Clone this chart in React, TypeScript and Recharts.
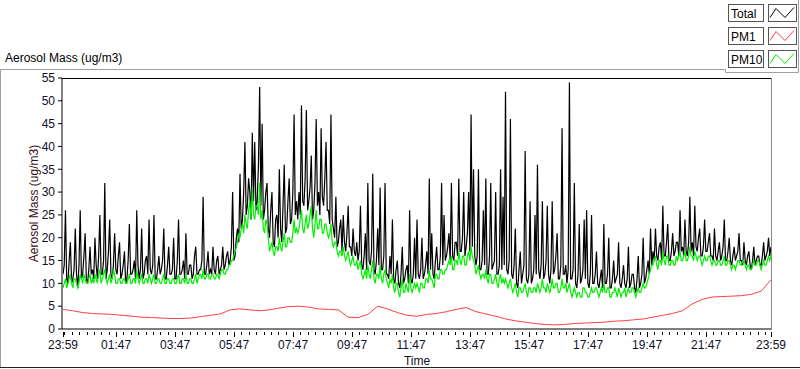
import React from 'react';
import { LineChart, Line, XAxis, YAxis, Legend } from 'recharts';

const FONT = '"Liberation Sans", Arial, sans-serif';

const seriesNames = ['Total', 'PM1', 'PM10'];
const seriesColors = ['#000000', '#ff4040', '#00ee00'];

// minutes since 23:59, 2.5-minute samples (one row per hour)
const mainStep = 2.5;
const totalValues = [
  12, 14, 26, 11, 10, 15, 19, 10, 11, 13, 22, 12, 9, 14, 26, 11, 12, 16, 21, 11, 10, 13, 18, 12,
  13, 11, 20, 14, 11, 16, 25, 12, 12, 15, 32, 11, 13, 17, 24, 12, 11, 14, 21, 13, 12, 16, 19, 11,
  12, 14, 17, 10, 11, 15, 23, 12, 12, 13, 15, 11, 26, 14, 11, 13, 22, 11, 12, 15, 16, 12, 24, 13,
  12, 14, 25, 11, 11, 13, 16, 12, 13, 15, 22, 11, 11, 14, 18, 12, 12, 13, 20, 11, 11, 15, 24, 12,
  12, 13, 15, 11, 21, 12, 12, 14, 14, 11, 12, 16, 18, 12, 12, 13, 13, 15, 29, 12, 12, 14, 17, 12,
  13, 12, 18, 13, 12, 15, 16, 12, 13, 14, 18, 13, 14, 16, 17, 14, 15, 18, 30, 15, 16, 20, 22, 19,
  34, 22, 24, 30, 41, 25, 27, 33, 30, 24, 43, 28, 41, 26, 28, 36, 53, 27, 45, 24, 26, 30, 32, 22,
  20, 26, 30, 19, 18, 24, 25, 20, 35, 22, 19, 27, 36, 21, 22, 28, 33, 23, 24, 30, 47, 25, 28, 24,
  30, 25, 49, 28, 27, 33, 48, 26, 28, 31, 38, 24, 26, 32, 46, 27, 30, 25, 44, 29, 27, 33, 41, 26,
  26, 23, 47, 24, 22, 20, 29, 18, 19, 22, 24, 17, 25, 19, 17, 21, 27, 18, 18, 16, 22, 17, 16, 19,
  15, 17, 27, 14, 13, 16, 21, 13, 32, 15, 14, 17, 34, 13, 12, 15, 22, 14, 31, 13, 13, 16, 32, 12,
  12, 11, 16, 12, 24, 11, 10, 13, 15, 10, 9, 12, 18, 10, 11, 13, 14, 10, 26, 11, 10, 12, 20, 11,
  24, 12, 11, 13, 20, 11, 12, 14, 17, 12, 33, 13, 21, 12, 11, 15, 18, 13, 13, 16, 32, 14, 25, 15,
  16, 18, 21, 15, 32, 16, 15, 19, 19, 16, 33, 17, 17, 20, 30, 16, 18, 21, 30, 17, 47, 18, 35, 16,
  14, 16, 35, 13, 13, 15, 26, 14, 33, 12, 12, 16, 32, 13, 14, 15, 30, 12, 12, 14, 35, 13, 29, 14,
  52, 13, 12, 15, 46, 12, 11, 14, 22, 10, 9, 13, 17, 10, 12, 14, 39, 11, 10, 12, 28, 10, 11, 13,
  25, 12, 36, 13, 11, 14, 28, 11, 12, 15, 27, 12, 10, 13, 28, 12, 13, 16, 21, 11, 11, 14, 44, 12,
  12, 14, 10, 13, 54, 11, 11, 13, 32, 10, 9, 12, 23, 10, 11, 13, 24, 11, 26, 10, 9, 12, 25, 10,
  10, 12, 17, 10, 9, 11, 13, 9, 23, 10, 10, 12, 20, 9, 9, 11, 15, 10, 11, 12, 19, 10, 9, 11,
  14, 10, 9, 11, 18, 9, 10, 12, 12, 9, 8, 11, 16, 9, 10, 12, 20, 10, 11, 13, 15, 12, 22, 14,
  17, 15, 22, 16, 15, 18, 19, 15, 27, 16, 16, 19, 23, 15, 15, 17, 21, 16, 17, 19, 19, 16, 26, 17,
  18, 16, 24, 17, 16, 19, 29, 17, 19, 16, 27, 18, 17, 20, 22, 16, 16, 18, 24, 17, 17, 19, 21, 16,
  16, 15, 22, 16, 15, 17, 19, 15, 16, 18, 24, 15, 15, 17, 20, 15, 14, 16, 18, 15, 16, 17, 21, 15,
  15, 14, 19, 15, 14, 16, 17, 14, 13, 15, 18, 14, 15, 16, 16, 14, 14, 16, 19, 15, 16, 17, 20, 16,
  18,
];

const pm10Values = [
  9, 10, 11, 9, 10, 11, 12, 10, 9, 11, 11, 10, 9, 10, 12, 11, 10, 12, 11, 10, 10, 11, 12, 10,
  11, 10, 12, 11, 10, 12, 13, 10, 11, 12, 13, 11, 10, 11, 12, 10, 11, 13, 12, 10, 10, 11, 11, 10,
  10, 11, 11, 10, 10, 11, 12, 10, 10, 11, 11, 10, 13, 11, 10, 11, 12, 10, 10, 11, 11, 10, 12, 11,
  10, 11, 12, 10, 10, 11, 11, 10, 10, 11, 12, 10, 10, 11, 11, 10, 10, 11, 11, 10, 10, 11, 12, 10,
  10, 11, 11, 10, 12, 10, 10, 11, 11, 10, 10, 11, 12, 10, 11, 12, 12, 11, 13, 11, 11, 12, 12, 11,
  11, 12, 12, 11, 11, 12, 12, 11, 12, 13, 13, 12, 12, 13, 13, 14, 14, 15, 15, 16, 17, 18, 19, 21,
  20, 22, 23, 21, 25, 23, 22, 26, 28, 24, 31, 25, 24, 27, 27, 25, 32, 24, 26, 22, 21, 24, 23, 20,
  17, 18, 19, 17, 16, 18, 18, 17, 20, 18, 17, 19, 21, 18, 18, 20, 20, 19, 19, 21, 24, 21, 22, 21,
  22, 24, 26, 22, 21, 23, 25, 22, 23, 25, 27, 22, 20, 23, 26, 22, 22, 24, 24, 21, 21, 23, 23, 21,
  20, 21, 23, 19, 18, 19, 19, 17, 16, 17, 17, 16, 18, 16, 15, 16, 17, 15, 14, 15, 16, 14, 14, 15,
  13, 14, 15, 12, 11, 12, 13, 11, 14, 12, 11, 13, 15, 11, 10, 12, 12, 11, 14, 11, 10, 12, 13, 11,
  10, 9, 11, 10, 12, 9, 8, 10, 10, 8, 7, 9, 11, 8, 8, 10, 9, 8, 12, 9, 8, 9, 10, 9,
  10, 9, 8, 10, 10, 9, 9, 11, 11, 10, 13, 11, 11, 10, 9, 12, 12, 11, 11, 13, 13, 12, 12, 13,
  13, 14, 15, 14, 16, 13, 13, 15, 15, 14, 17, 15, 14, 16, 16, 14, 14, 16, 17, 15, 18, 16, 15, 14,
  12, 13, 14, 12, 11, 12, 12, 11, 13, 11, 10, 12, 12, 10, 10, 11, 12, 10, 9, 11, 12, 10, 11, 10,
  11, 10, 9, 10, 11, 9, 8, 9, 10, 8, 7, 9, 9, 8, 8, 9, 10, 8, 7, 9, 9, 8, 8, 9,
  9, 8, 10, 9, 8, 9, 11, 9, 9, 8, 10, 9, 8, 9, 11, 9, 9, 10, 10, 8, 8, 9, 11, 9,
  9, 10, 8, 9, 10, 8, 7, 8, 9, 8, 7, 8, 8, 7, 7, 9, 9, 8, 8, 7, 7, 8, 9, 8,
  8, 9, 9, 8, 7, 8, 9, 8, 10, 8, 8, 9, 9, 7, 7, 8, 8, 9, 8, 7, 9, 8, 7, 8,
  8, 9, 7, 8, 9, 8, 8, 9, 9, 8, 7, 8, 9, 8, 8, 9, 10, 9, 9, 10, 11, 12, 13, 14,
  14, 15, 16, 14, 13, 15, 15, 14, 17, 15, 14, 16, 16, 14, 14, 15, 15, 14, 14, 16, 15, 16, 17, 15,
  15, 16, 17, 15, 15, 16, 18, 16, 16, 15, 17, 16, 15, 16, 16, 15, 14, 15, 16, 15, 15, 16, 16, 15,
  14, 15, 15, 14, 14, 15, 15, 14, 14, 15, 16, 14, 14, 15, 15, 14, 13, 14, 14, 13, 14, 15, 15, 14,
  14, 15, 15, 14, 13, 14, 14, 13, 13, 14, 15, 14, 14, 15, 15, 14, 13, 14, 15, 14, 14, 15, 16, 15,
  16,
];

// 20-minute samples
const pm1Step = 20;
const pm1Values = [
  4.3, 4.0, 3.6, 3.4, 3.3, 3.2, 3.0, 2.8, 2.6, 2.5, 2.4, 2.3,
  2.3, 2.4, 2.7, 3.0, 3.3, 4.2, 4.4, 4.2, 4.0, 4.2, 4.6, 4.9,
  5.0, 4.8, 4.4, 4.3, 4.2, 2.6, 2.5, 3.2, 5.0, 4.4, 3.6, 3.0,
  2.8, 3.2, 3.4, 3.8, 4.3, 4.7, 3.8, 3.3, 2.8, 2.2, 1.8, 1.5,
  1.2, 1.0, 0.9, 1.0, 1.2, 1.3, 1.4, 1.5, 1.7, 1.8, 2.0, 2.2,
  2.6, 3.0, 3.4, 4.0, 5.5, 6.5, 7.0, 7.1, 7.2, 7.3, 7.6, 8.3,
  10.8,
];

const majorTickMinutes = [0, 108, 228, 348, 468, 588, 708, 828, 948, 1068, 1188, 1308, 1440];
const majorTickLabels = ['23:59', '01:47', '03:47', '05:47', '07:47', '09:47', '11:47', '13:47', '15:47', '17:47', '19:47', '21:47', '23:59'];
const yTicks = [0, 5, 10, 15, 20, 25, 30, 35, 40, 45, 50, 55];

const xTicks: number[] = [0];
for (let t = 3; t < 1440; t += 15) xTicks.push(t);
xTicks.push(1440);

const mainData = totalValues.map((v, i) => ({ t: i * mainStep, total: v, pm10: pm10Values[i] }));
const pm1Data = pm1Values.map((v, i) => ({ t: i * pm1Step, pm1: v }));

const XTick = (props: any) => {
  const { x, y, payload } = props;
  const idx = majorTickMinutes.indexOf(payload.value);
  const major = idx >= 0;
  const px = Math.round(x) + 0.5;
  return (
    <g>
      <line x1={px} x2={px} y1={y + 3} y2={y + (major ? 8 : 6)} stroke="#000" strokeWidth={1} />
      {major && (
        <text x={x} y={y + 20} textAnchor="middle" fontFamily={FONT} fontSize={12} fill="#101028">
          {majorTickLabels[idx]}
        </text>
      )}
    </g>
  );
};

const LegendContent = (props: any) => {
  const payload: any[] = props.payload || [];
  const ordered = seriesNames.map((n) => payload.find((p) => p.value === n)).filter(Boolean);
  return (
    <svg width={74} height={72} style={{ display: 'block' }}>
      {ordered.map((p: any, i: number) => {
        const y0 = 4.5 + i * 23;
        return (
          <g key={p.value}>
            <rect x={2.5} y={y0} width={35} height={17} fill="#fff" stroke="#555" />
            <text x={5} y={y0 + 13} fontFamily={FONT} fontSize={12} fill="#000">{p.value}</text>
            <rect x={42.5} y={y0} width={28} height={17} fill="#fff" stroke="#555" />
            <polyline
              points={`${44},${y0 + 13} ${50},${y0 + 4} ${59},${y0 + 13} ${68},${y0 + 3}`}
              fill="none"
              stroke={p.color}
              strokeWidth={1}
            />
          </g>
        );
      })}
    </svg>
  );
};

export default function App() {
  return (
    <div style={{ position: 'absolute', left: 0, top: 0, width: 800, height: 369, background: '#fff', overflow: 'hidden' }}>
      <svg width={800} height={369} style={{ position: 'absolute', left: 0, top: 0 }}>
        <text x={5} y={62} fontFamily={FONT} fontSize={12} fill="#000">Aerosol Mass (ug/m3)</text>
        <line x1={0.5} y1={69.5} x2={0.5} y2={368} stroke="#a0a0a0" />
        <line x1={0} y1={69.5} x2={725.5} y2={69.5} stroke="#a0a0a0" />
        <line x1={725.5} y1={69.5} x2={725.5} y2={72.5} stroke="#a0a0a0" />
        <line x1={725.5} y1={72.5} x2={798.5} y2={72.5} stroke="#a0a0a0" />
        <line x1={798.5} y1={0} x2={798.5} y2={72.5} stroke="#a0a0a0" />
        <line x1={0} y1={367.5} x2={800} y2={367.5} stroke="#222" />
        <text x={34} y={203.5} transform="rotate(-90 34 203.5)" textAnchor="middle" dominantBaseline="central" fontFamily={FONT} fontSize={12} fill="#3a1018">
          Aerosol Mass (ug/m3)
        </text>
        <text x={417} y={365} textAnchor="middle" fontFamily={FONT} fontSize={12} fill="#101028">Time</text>
      </svg>
      <div style={{ position: 'absolute', left: 0, top: 0 }}>
        <LineChart width={800} height={369} margin={{ top: 78, right: 28, bottom: 10, left: 0 }}>
          <XAxis
            type="number"
            dataKey="t"
            domain={[0, 1440]}
            ticks={xTicks}
            interval={0}
            padding={{ left: 1, right: 1 }}
            height={30}
            tickSize={0}
            tickMargin={0}
            tickLine={false}
            tick={<XTick />}
            axisLine={{ stroke: '#000' }}
            allowDataOverflow
          />
          <YAxis
            type="number"
            domain={[0, 55]}
            ticks={yTicks}
            interval={0}
            width={62}
            tickSize={4}
            tickMargin={3}
            tickLine={{ stroke: '#000' }}
            axisLine={{ stroke: '#000' }}
            tick={{ fontFamily: FONT, fontSize: 12, fill: '#101028' }}
            allowDataOverflow
          />
          <Legend
            layout="horizontal"
            verticalAlign="middle"
            align="center"
            content={<LegendContent />}
            wrapperStyle={{ position: 'absolute', left: 726, top: 0, width: 74, height: 72 }}
          />
          <Line data={mainData} dataKey="total" name={seriesNames[0]} stroke={seriesColors[0]} strokeWidth={1.2} dot={false} type="linear" isAnimationActive={false} />
          <Line data={pm1Data} dataKey="pm1" name={seriesNames[1]} stroke={seriesColors[1]} strokeWidth={1} dot={false} type="linear" isAnimationActive={false} />
          <Line data={mainData} dataKey="pm10" name={seriesNames[2]} stroke={seriesColors[2]} strokeWidth={1.2} dot={false} type="linear" isAnimationActive={false} />
        </LineChart>
      </div>
      <svg width={800} height={369} style={{ position: 'absolute', left: 0, top: 0, pointerEvents: 'none' }}>
        <line x1={62} y1={78.5} x2={772} y2={78.5} stroke="#000" />
        <line x1={771.5} y1={78} x2={771.5} y2={329} stroke="#888" />
      </svg>
    </div>
  );
}
